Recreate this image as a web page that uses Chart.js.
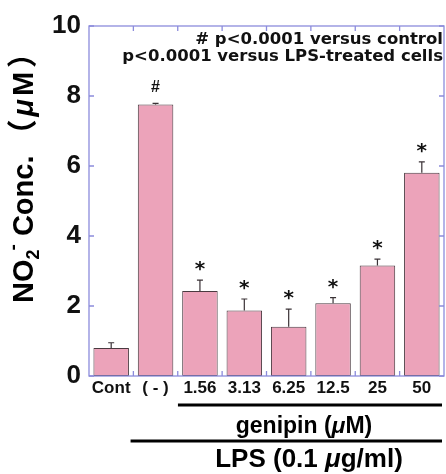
<!DOCTYPE html>
<html>
<head>
<meta charset="utf-8">
<script src="https://cdn.jsdelivr.net/npm/chart.js@4"></script>
<style>
  html, body { margin: 0; padding: 0; background: #ffffff; }
  #wrap { width: 446px; height: 474px; position: relative; }
</style>
</head>
<body>
<div id="wrap"><canvas id="c"></canvas></div>
<script>
// ---- data ----
const categories = ["Cont", "( - )", "1.56", "3.13", "6.25", "12.5", "25", "50"];
const no2Values  = [0.80, 7.76, 2.43, 1.87, 1.41, 2.08, 3.16, 5.81];
const no2Errors  = [0.15, 0.03, 0.31, 0.33, 0.50, 0.16, 0.18, 0.31];
const markers    = ["", "#", "*", "*", "*", "*", "*", "*"];
const yTicks     = [0, 2, 4, 6, 8, 10];
const noteLines  = ["# p<0.0001 versus control", "p<0.0001 versus LPS-treated cells"];

const SANS = "'Liberation Sans', Arial, Helvetica, 'Noto Sans CJK JP', sans-serif";
const AXIS_BLUE = "#8c8cdc";

const overlay = {
  id: "overlay",
  afterDatasetsDraw(chart) {
    const ctx = chart.ctx;
    const xs = chart.scales.x, ys = chart.scales.y;
    const a = chart.chartArea;
    const meta = chart.getDatasetMeta(0);

    // error bars + markers
    ctx.save();
    ctx.strokeStyle = "#3a3236";
    ctx.lineWidth = 1.2;
    meta.data.forEach((bar, i) => {
      const x = bar.x;
      const yTop = ys.getPixelForValue(no2Values[i]);
      const yErr = ys.getPixelForValue(no2Values[i] + no2Errors[i]);
      ctx.beginPath();
      ctx.moveTo(x, yTop); ctx.lineTo(x, yErr);
      ctx.moveTo(x - 3, yErr); ctx.lineTo(x + 3, yErr);
      ctx.stroke();
      const m = markers[i];
      if (m) {
        ctx.fillStyle = "#111";
        ctx.textAlign = "center";
        ctx.textBaseline = "middle";
        if (m === "#") {
          ctx.font = "bold 16px " + SANS;
          ctx.fillText(m, x, yErr - 16);
        } else {
          ctx.font = "bold 20px 'DejaVu Sans', sans-serif";
          ctx.fillText(m, x, yErr - 10);
        }
      }
    });
    ctx.restore();

    // frame + inward ticks
    ctx.save();
    ctx.strokeStyle = AXIS_BLUE;
    ctx.lineWidth = 1.3;
    ctx.strokeRect(a.left, a.top, a.right - a.left, a.bottom - a.top);
    ctx.beginPath();
    yTicks.forEach(v => {
      const y = ys.getPixelForValue(v);
      ctx.moveTo(a.left, y); ctx.lineTo(a.left + 5, y);
      ctx.moveTo(a.right, y); ctx.lineTo(a.right - 5, y);
    });
    for (let i = 1; i < categories.length; i++) {
      const x = (xs.getPixelForValue(i - 1) + xs.getPixelForValue(i)) / 2;
      ctx.moveTo(x, a.top); ctx.lineTo(x, a.top + 5);
      ctx.moveTo(x, a.bottom); ctx.lineTo(x, a.bottom - 5);
    }
    ctx.stroke();
    ctx.restore();

    // significance notes
    ctx.save();
    ctx.fillStyle = "#111";
    ctx.textAlign = "right";
    ctx.textBaseline = "alphabetic";
    ctx.font = "bold 16.5px 'DejaVu Sans', sans-serif";
    ctx.fillText(noteLines[0], a.right - 1, 44);
    ctx.fillText(noteLines[1], a.right - 1, 61);
    ctx.restore();

    // treatment brackets below axis
    ctx.save();
    ctx.strokeStyle = "#000";
    ctx.lineWidth = 3;
    const x156 = xs.getPixelForValue(2) - 22;
    const xMinus = xs.getPixelForValue(1) - 25;
    ctx.beginPath();
    ctx.moveTo(x156, 405); ctx.lineTo(442, 405);
    ctx.moveTo(xMinus, 441); ctx.lineTo(442, 441);
    ctx.stroke();
    ctx.fillStyle = "#000";
    ctx.textBaseline = "alphabetic";
    drawRich(ctx, [
      { t: "genipin (", f: "bold 23px " + SANS },
      { t: "\u03bc", f: "italic bold 23px " + SANS },
      { t: "M)", f: "bold 23px " + SANS }
    ], 304, 433);
    drawRich(ctx, [
      { t: "LPS (0.1 ", f: "bold 26px " + SANS },
      { t: "\u03bc", f: "italic bold 26px " + SANS },
      { t: "g/ml)", f: "bold 26px " + SANS }
    ], 309, 467);
    ctx.restore();

    // y axis title (rotated), drawn from the bottom (y=303) upward
    ctx.save();
    ctx.translate(33, 303);
    ctx.rotate(-Math.PI / 2);
    ctx.fillStyle = "#000";
    ctx.textBaseline = "alphabetic";
    drawRichLeft(ctx, [
      { t: "NO", f: "bold 29px " + SANS },
      { t: "2", f: "bold 18px " + SANS, dy: 6 },
      { t: "-", f: "bold 19px " + SANS, dy: -14, dx: -1 },
      { t: " Conc.", f: "bold 29px " + SANS },
      { t: "\uff08", f: "bold 30px 'Noto Sans CJK JP', sans-serif", dx: 6 },
      { t: "\u03bc", f: "italic bold 29px " + SANS, dx: 3 },
      { t: "M", f: "bold 29px " + SANS, dx: 3 },
      { t: "\uff09", f: "bold 30px 'Noto Sans CJK JP', sans-serif", dx: 4 }
    ], 0, 0);
    ctx.restore();
  }
};

function measureParts(ctx, parts) {
  let total = 0;
  parts.forEach(p => { ctx.font = p.f; p.w = ctx.measureText(p.t).width + (p.dx || 0); total += p.w; });
  return total;
}
function drawRichLeft(ctx, parts, x0, baseY) {
  measureParts(ctx, parts);
  let x = x0;
  ctx.textAlign = "left";
  parts.forEach(p => {
    ctx.font = p.f;
    ctx.fillText(p.t, x + (p.dx || 0), baseY + (p.dy || 0));
    x += p.w;
  });
}
function drawRich(ctx, parts, cx, baseY) {
  const total = measureParts(ctx, parts);
  drawRichLeft(ctx, parts, cx - total / 2, baseY);
}

new Chart(document.getElementById("c"), {
  type: "bar",
  data: {
    labels: categories,
    datasets: [{
      data: no2Values,
      backgroundColor: "#eca3ba",
      borderColor: "#4a3a40",
      borderWidth: 1,
      borderSkipped: false,
      barPercentage: 0.8,
      categoryPercentage: 1.0
    }]
  },
  options: {
    responsive: true,
    maintainAspectRatio: false,
    animation: false,
    devicePixelRatio: 1,
    layout: { padding: { top: 26, right: 2, left: 0, bottom: 0 } },
    plugins: { legend: { display: false }, tooltip: { enabled: false } },
    scales: {
      x: {
        grid: { display: false, drawTicks: false },
        border: { display: false },
        ticks: {
          color: "#111",
          font: { family: SANS, size: 17, weight: "bold" },
          padding: 2,
          autoSkip: false,
          maxRotation: 0,
          minRotation: 0
        },
        afterFit(s) { s.height = 98; }
      },
      y: {
        min: 0, max: 10,
        grid: { display: false, drawTicks: false },
        border: { display: false },
        afterBuildTicks(s) { s.ticks = yTicks.map(v => ({ value: v })); },
        ticks: {
          color: "#111",
          font: { family: SANS, size: 26, weight: "bold" },
          padding: 8
        },
        afterFit(s) { s.width = 89; }
      }
    }
  },
  plugins: [overlay]
});
</script>
</body>
</html>
